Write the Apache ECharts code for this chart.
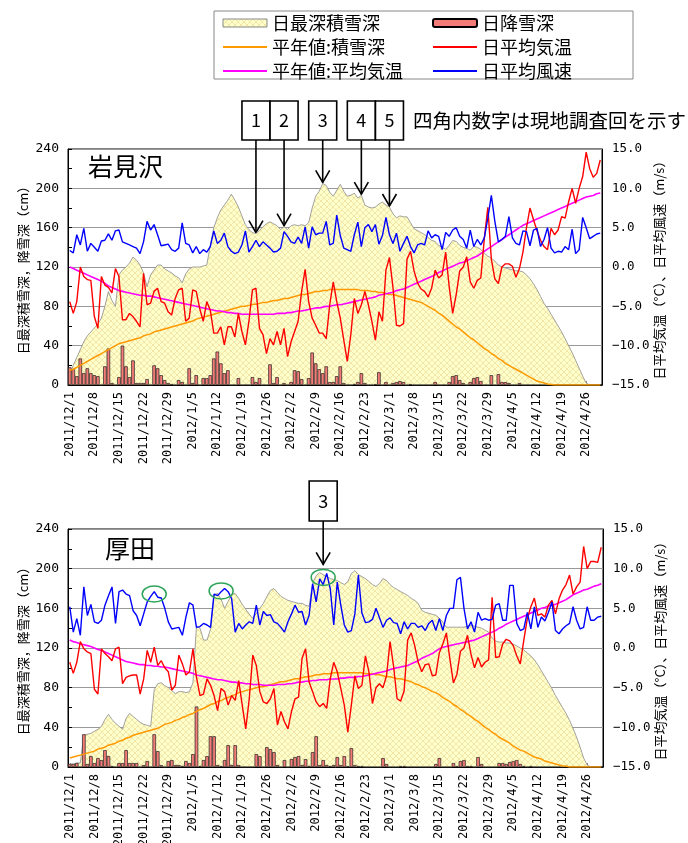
<!DOCTYPE html>
<html><head><meta charset="utf-8">
<script src="https://cdn.jsdelivr.net/npm/echarts/dist/echarts.min.js"></script>
<style>html,body{margin:0;padding:0;background:#fff}#c{width:688px;height:843px}</style>
</head><body><div id="c"></div>
<script>
// ---------- categories ----------
const startDate = [2011, 12, 1];
const nDays = 152;
const dates = [];
(function(){ const d = new Date(startDate[0], startDate[1]-1, startDate[2]);
  for (let i=0;i<nDays;i++){ dates.push(d.getFullYear()+'/'+(d.getMonth()+1)+'/'+d.getDate()); d.setDate(d.getDate()+1);} })();
const cmTicks = [0,40,80,120,160,200,240];
const degTicks = [-15,-10,-5,0,5,10,15];

// ---------- 岩見沢 ----------
const snow1 = [10,20,28,36,44,50,54,58,62,68,
 80,95,86,80,112,117,120,124,130,127,
 122,114,100,112,117,122,122,118,116,114,
 111,109,104,113,118,120,120,120,121,122,
 142,160,170,178,183,188,194,188,181,172,
 163,158,155,154,157,161,164,166,164,162,
 158,161,158,162,163,162,163,162,165,180,
 192,197,205,203,196,192,198,204,197,192,
 193,195,190,193,183,181,180,181,184,186,
 183,181,174,170,172,171,171,165,159,157,
 155,153,150,147,146,142,140,138,142,147,
 146,142,140,139,137,141,140,138,134,131,
 129,126,122,120,119,118,117,116,116,115,
 112,108,103,97,90,83,78,72,66,60,
 54,47,40,33,25,17,9,2,0,0,0,0];
const fall1 = [18,16,9,27,12,17,12,10,9,0,
 19,37,2,0,8,40,19,8,25,2,
 2,2,6,0,20,17,10,5,2,1,
 0,5,3,0,17,2,10,0,7,7,
 10,27,34,22,12,15,0,0,7,0,
 0,0,8,3,7,0,0,21,2,8,
 0,2,0,3,15,14,6,0,7,33,
 22,16,12,19,3,3,9,19,2,0,
 0,1,3,12,2,0,0,1,13,0,
 3,0,2,3,4,3,0,1,0,0,
 0,0,0,0,3,0,0,0,3,9,
 10,5,2,0,3,7,8,4,0,0,
 10,0,11,3,3,2,0,0,2,0,
 0,0,0,0,0,0,0,0,0,0,
 0,0,0,0,0,0,0,0,0,0,0,0];
const normSnow1 = [15,16,18,20,22,24,26,28,30,32,
 34,36,38,40,42,43,44,45,46,47,
 48,50,51,52,54,55,56,57,58,59,
 60,61,62,63,64,65,67,68,69,70,
 71,72,73,74,75,76,77,78,79,80,
 80,81,82,82,83,84,84,85,86,86,
 87,88,88,89,90,91,92,92,93,94,
 95,95,96,96,97,97,97,97,97,97,
 97,97,97,96,96,96,95,95,94,94,
 93,92,92,91,90,89,88,87,86,85,
 84,82,80,78,76,73,71,68,65,62,
 59,57,54,51,48,46,43,40,37,35,
 32,30,27,25,22,20,18,16,14,12,
 10,8,6,4,3,2,1,0.5,0,0,
 0,0,0,0,0,0,0,0,0,0,0,0];
const temp1 = [-4.4,-5.9,-4.4,0.0,-1.2,-1.6,-1.7,-6.3,-7.8,-1.2,
 -2.3,-2.6,-3.3,-0.2,-1.2,-6.7,-6.7,-5.9,-6.3,-6.9,
 -7.6,-0.8,-4.8,-4.6,-3.1,-2.7,-4.4,-4.6,-5.7,-6.1,
 -4.0,-2.9,-2.7,-6.9,-6.5,-2.9,-3.1,-5.3,-6.9,-4.4,
 -5.5,-8.4,-8.4,-7.6,-9.9,-7.6,-7.6,-8.9,-5.9,-8.2,
 -9.9,-6.9,-2.9,-2.7,-7.8,-8.6,-11.0,-9.1,-9.9,-8.2,
 -9.9,-7.8,-11.4,-9.5,-8.2,-6.9,-3.1,-0.3,-4.4,-6.5,
 -7.4,-8.4,-8.4,-9.1,-4.8,-1.9,-4.4,-6.5,-9.3,-12.0,
 -8.6,-4.0,-5.9,-4.8,-3.1,-4.8,-6.9,-9.3,-5.7,-6.9,
 -0.4,1.2,-2.6,-7.4,-7.5,-7.2,1.0,2.0,-0.5,-2.0,
 -2.8,-3.1,-3.8,-2.7,-0.4,-1.4,-1.0,1.9,-2.5,-5.9,
 -3.5,-0.5,0.0,1.3,-1.9,-2.7,-1.7,-1.4,3.6,7.6,
 1.0,-1.5,-2.1,0.0,0.4,0.4,0.1,-1.3,-0.2,1.9,
 5.0,7.5,6.0,4.6,3.4,2.6,2.2,4.9,4.1,4.7,
 6.4,6.2,8.3,10.0,8.1,10.0,11.5,14.6,12.5,11.4,11.9,13.6];
const normTemp1 = [0.0,-0.2,-0.4,-0.6,-0.8,-1.0,-1.2,-1.4,-1.6,-1.8,
 -2.1,-2.4,-2.6,-2.8,-3.0,-3.1,-3.2,-3.3,-3.4,-3.5,
 -3.6,-3.6,-3.7,-3.7,-3.8,-3.9,-4.0,-4.1,-4.2,-4.3,
 -4.4,-4.5,-4.6,-4.7,-4.8,-4.9,-5.0,-5.1,-5.2,-5.3,
 -5.4,-5.5,-5.6,-5.6,-5.7,-5.8,-5.8,-5.9,-5.9,-6.0,
 -6.0,-6.0,-6.0,-6.0,-6.0,-6.0,-6.0,-6.0,-6.0,-5.9,
 -5.9,-5.9,-5.8,-5.8,-5.7,-5.6,-5.6,-5.5,-5.4,-5.3,
 -5.2,-5.2,-5.1,-5.0,-5.0,-4.9,-4.8,-4.8,-4.7,-4.6,
 -4.5,-4.4,-4.3,-4.2,-4.1,-4.0,-3.9,-3.8,-3.6,-3.5,
 -3.4,-3.3,-3.2,-3.0,-2.9,-2.8,-2.6,-2.4,-2.2,-2.0,
 -1.8,-1.6,-1.4,-1.2,-1.0,-0.7,-0.5,-0.3,-0.1,0.1,
 0.3,0.5,0.6,0.8,1.0,1.2,1.4,1.7,2.0,2.3,
 2.6,2.9,3.2,3.5,3.8,4.1,4.4,4.7,5.0,5.3,
 5.5,5.7,5.9,6.1,6.3,6.5,6.7,6.9,7.1,7.3,
 7.5,7.7,7.9,8.1,8.3,8.5,8.7,8.9,9.0,9.1,9.3,9.4];
const wind1 = [2.1,1.8,4.1,2.8,4.9,2.0,3.0,2.5,2.0,3.3,
 3.4,4.2,3.4,4.6,4.7,3.2,3.0,2.8,2.6,2.4,
 1.7,3.2,5.8,4.7,5.4,4.1,2.7,2.8,2.9,2.2,
 2.0,2.4,5.6,3.0,2.8,1.8,2.6,1.7,2.2,1.9,
 2.6,4.6,3.0,3.4,4.3,2.6,2.0,1.7,1.9,2.8,
 4.6,1.9,2.6,3.4,2.6,3.2,2.8,2.4,1.9,2.0,
 2.4,4.5,3.9,3.2,3.0,3.8,3.0,5.1,2.4,5.1,
 4.1,4.3,4.3,5.8,2.8,3.0,6.6,4.0,2.4,2.2,
 2.0,4.1,5.7,2.6,5.0,5.4,4.5,5.4,2.9,4.0,
 6.3,4.1,3.0,4.3,2.0,3.0,3.9,2.6,1.8,2.8,
 3.0,2.8,4.6,3.7,4.1,3.9,2.2,4.4,3.9,4.7,
 5.0,3.9,3.5,2.4,4.7,2.6,3.5,2.8,3.7,6.2,
 9.1,5.8,3.2,3.5,3.9,6.4,3.7,3.0,2.8,4.6,
 4.5,2.7,4.7,4.9,2.6,3.5,5.0,2.4,1.8,2.0,
 1.9,2.6,2.2,4.8,1.7,2.2,6.3,5.0,3.6,3.9,4.2,4.3];

// ---------- 厚田 ----------
const snow2 = [3,3,4,4,32,33,34,36,38,41,
 48,53,48,44,41,38,49,54,51,48,
 45,43,42,41,78,84,85,82,80,77,
 74,76,76,75,76,85,142,140,128,128,
 139,174,175,169,160,167,174,175,170,164,
 159,154,150,155,160,165,172,178,180,176,
 172,170,168,167,166,165,165,163,162,185,
 193,196,194,192,190,189,188,186,184,187,
 195,198,194,192,190,187,184,182,185,190,
 188,184,181,179,177,175,173,170,168,165,
 158,156,155,154,153,150,146,141,141,141,
 141,141,141,142,143,142,141,140,138,136,
 130,127,126,126,125,125,124,122,120,118,
 115,112,108,103,97,91,85,79,72,66,
 60,54,47,39,30,20,9,2,0,0,0,0];
const fall2 = [3,3,4,0,33,3,11,4,9,7,
 17,11,1,0,4,4,17,4,4,4,
 0,2,6,0,33,16,2,0,6,7,
 2,2,1,6,4,13,61,1,7,11,
 31,31,2,1,7,22,2,22,2,0,
 0,0,0,13,11,0,20,18,15,2,
 0,7,0,8,10,11,2,8,1,15,
 31,2,7,2,1,2,10,2,11,1,
 19,2,1,1,0,0,0,0,0,9,
 3,0,0,0,1,1,0,0,0,0,
 0,0,0,0,3,9,0,0,0,4,
 1,6,7,1,1,0,10,3,0,0,
 0,0,4,4,3,5,6,7,3,1,
 0,1,0,0,0,0,0,0,0,0,
 0,0,0,0,0,0,0,0,0,0,0,0];
const normSnow2 = [9,10,11,12,13,14,15,16,18,19,
 20,22,23,24,26,27,29,30,32,33,
 34,35,36,37,38,39,41,43,44,45,
 47,48,50,51,53,54,56,58,59,61,
 63,64,66,67,69,70,72,73,75,76,
 77,78,79,80,81,81,82,83,84,85,
 86,86,87,88,89,89,90,91,91,92,
 93,93,94,94,94,95,95,95,95,95,
 95,95,95,95,94,94,94,93,93,92,
 91,91,90,89,89,88,87,86,84,83,
 81,80,78,76,75,73,70,68,66,63,
 61,58,56,53,51,48,46,43,40,38,
 35,33,30,28,26,24,21,19,17,16,
 14,12,10,9,8,6,5,4,3,2,
 1,1,0,0,0,0,0,0,0,0,0,0];
const temp2 = [-1.8,-3.2,-1.8,0.8,-0.1,-0.5,-0.7,-5.2,-5.8,-0.1,
 -0.7,-1.1,-1.6,-0.1,0.1,-4.5,-3.7,-3.5,-3.4,-3.4,
 -5.8,-3.9,-0.3,-1.8,0.1,-2.2,-1.6,-2.5,-3.0,-5.3,
 -4.7,-0.9,-2.0,-3.4,-3.0,-0.1,-3.7,-6.0,-5.8,-3.9,
 -4.7,-6.0,-7.9,-5.1,-5.5,-7.2,-6.0,-6.6,-4.1,-7.2,
 -10.2,-6.4,-0.9,-2.2,-5.5,-6.8,-7.0,-6.4,-5.1,-9.7,
 -8.0,-9.3,-10.2,-8.0,-6.4,-6.2,-1.3,-0.1,-4.3,-5.5,
 -6.8,-7.4,-7.0,-7.6,-3.9,-1.8,-3.0,-5.1,-7.2,-10.6,
 -7.2,-3.5,-5.1,-4.7,-1.0,-3.0,-7.0,-5.0,-4.5,-5.0,
 -3.5,0.8,-2.3,-6.4,-6.7,-5.4,1.0,1.9,0.3,-1.8,
 -3.0,-2.1,-2.0,-3.5,-3.4,-0.6,0.5,1.9,-1.4,-4.4,
 -3.3,-0.4,0.0,1.6,-0.8,-2.5,-1.2,-2.4,-1.8,-1.5,
 6.4,-1.2,-1.1,0.5,1.1,0.9,0.3,-1.0,-2.0,1.0,
 3.7,5.2,6.3,4.1,4.3,3.9,5.4,6.0,4.3,6.2,
 7.3,8.0,9.2,6.8,7.7,8.3,12.8,10.0,10.9,10.9,10.8,12.7];
const normTemp2 = [1.0,0.8,0.7,0.5,0.4,0.3,0.2,0.0,-0.2,-0.3,
 -0.5,-0.7,-0.9,-1.1,-1.3,-1.5,-1.7,-1.8,-1.9,-2.0,
 -2.1,-2.1,-2.2,-2.2,-2.3,-2.3,-2.4,-2.4,-2.5,-2.6,
 -2.7,-2.8,-2.9,-3.0,-3.1,-3.2,-3.4,-3.5,-3.6,-3.7,
 -3.8,-3.9,-4.0,-4.0,-4.1,-4.2,-4.3,-4.3,-4.4,-4.4,
 -4.5,-4.5,-4.6,-4.6,-4.6,-4.7,-4.7,-4.7,-4.7,-4.6,
 -4.6,-4.6,-4.5,-4.5,-4.4,-4.3,-4.3,-4.2,-4.2,-4.1,
 -4.1,-4.0,-4.0,-4.0,-3.9,-3.9,-3.9,-3.8,-3.8,-3.7,
 -3.7,-3.7,-3.6,-3.6,-3.5,-3.4,-3.3,-3.2,-3.1,-3.0,
 -2.9,-2.7,-2.6,-2.5,-2.4,-2.3,-2.2,-2.0,-1.8,-1.6,
 -1.3,-1.1,-0.9,-0.7,-0.4,-0.1,0.1,0.2,0.3,0.4,
 0.5,0.6,0.7,0.8,0.9,1.0,1.2,1.4,1.6,1.8,
 2.0,2.2,2.5,2.7,3.0,3.2,3.4,3.6,3.8,4.0,
 4.2,4.4,4.6,4.8,5.0,5.1,5.3,5.4,5.5,5.7,
 5.9,6.1,6.4,6.7,6.9,7.1,7.3,7.4,7.6,7.8,7.9,8.1];
const wind2 = [5.2,2.0,3.7,1.6,7.7,4.1,5.5,3.3,3.1,3.5,
 5.4,6.6,7.7,3.1,7.1,7.3,6.8,6.6,4.7,4.1,
 2.8,4.3,5.8,6.5,7.1,6.4,6.3,5.0,3.3,2.4,
 2.5,2.6,1.6,3.9,5.7,5.4,2.6,2.7,3.1,2.9,
 2.6,6.8,6.6,7.1,7.5,7.1,6.2,2.0,3.1,2.4,
 2.9,3.3,3.1,5.4,2.9,4.6,4.1,4.2,3.3,3.1,
 2.6,2.0,3.3,4.3,5.4,4.5,4.6,2.9,4.1,8.1,
 5.8,8.7,8.0,9.4,7.5,2.9,8.3,5.4,2.9,2.0,
 2.2,4.3,9.2,4.4,3.2,3.3,3.6,5.0,3.8,2.6,
 3.5,3.8,3.2,3.1,1.8,3.3,2.4,3.1,3.1,2.6,
 2.8,2.2,3.1,3.5,2.2,3.7,2.2,4.1,5.0,5.0,
 8.6,8.9,5.0,2.4,3.3,2.0,4.5,3.5,3.7,3.5,
 3.6,5.4,5.6,3.5,3.5,7.9,7.9,3.1,2.2,2.4,
 4.5,2.4,5.2,2.6,3.9,3.4,4.5,5.8,2.2,1.8,
 2.4,2.8,3.1,5.2,3.5,2.4,2.6,5.2,3.5,3.5,3.9,4.0];

// ---------- annotations (day index of field surveys, circled wind peaks) ----------
const surveys1 = [{n:'1',day:53},{n:'2',day:61},{n:'3',day:72},{n:'4',day:83},{n:'5',day:91}];
const circles2 = [{day:24.3,v:6.8},{day:43.3,v:7.2},{day:72.2,v:8.9}];
const survey2 = {n:'3', circle:2};

// ---------- styling ----------
const FONT = '"Noto Sans CJK JP", "Noto Sans", sans-serif';
const NUMFONT = '"DejaVu Sans Mono", monospace';
const pc = document.createElement('canvas'); pc.width = 6; pc.height = 6;
(function(){ const c = pc.getContext('2d'); c.fillStyle='#FFFFCC'; c.fillRect(0,0,6,6);
  c.strokeStyle='#F1E4A4'; c.lineWidth=0.9; c.beginPath();
  c.moveTo(0,0); c.lineTo(6,6); c.moveTo(6,0); c.lineTo(0,6); c.stroke(); })();
const pattern = {image: pc, repeat: 'repeat'};

const grids = [
  {left:68, right:86, top:149, height:236},
  {left:68, right:85, top:529, height:238}
];
const fmtDeg = v => (v<0?'\u2212':'') + Math.abs(v).toFixed(1);

const xAxes = [], yAxes = [], series = [];
const panels = [
  {snow:snow1, fall:fall1, nSnow:normSnow1, temp:temp1, nTemp:normTemp1, wind:wind1},
  {snow:snow2, fall:fall2, nSnow:normSnow2, temp:temp2, nTemp:normTemp2, wind:wind2}
];
panels.forEach((p, g) => {
  xAxes.push({type:'category', gridIndex:g, data:dates, boundaryGap:true,
    axisLine:{lineStyle:{color:'#000', width:1}},
    axisTick:{show:true, inside:true, interval:6, length:4, alignWithLabel:true, lineStyle:{color:'#888'}},
    axisLabel:{interval:6, rotate:90, fontSize:12, color:'#000', margin:7, fontFamily:NUMFONT},
    splitLine:{show:false}});
  yAxes.push({type:'value', gridIndex:g, position:'left', min:cmTicks[0], max:cmTicks[cmTicks.length-1], interval:cmTicks[1]-cmTicks[0],
    name:'日最深積雪深，降雪深（cm）', nameLocation:'middle', nameRotate:90, nameGap:38, nameMoveOverlap:false,
    nameTextStyle:{fontSize:13, color:'#000', fontFamily:FONT},
    axisLine:{show:true, lineStyle:{color:'#000', width:1}},
    axisTick:{show:true, inside:true, length:4, lineStyle:{color:'#000'}},
    minorTick:{show:true, splitNumber:2, length:4, lineStyle:{color:'#000'}},
    axisLabel:{fontSize:13, color:'#000', margin:9, fontFamily:NUMFONT},
    splitLine:{show:true, lineStyle:{color:'#999', width:1}}});
  yAxes.push({type:'value', gridIndex:g, position:'right', min:degTicks[0], max:degTicks[degTicks.length-1], interval:degTicks[1]-degTicks[0],
    name:'日平均気温（°C）、日平均風速（m/s）', nameLocation:'middle', nameRotate:90, nameGap:51, nameMoveOverlap:false,
    nameTextStyle:{fontSize:13, color:'#000', fontFamily:FONT},
    axisLine:{show:true, lineStyle:{color:'#000', width:1}},
    axisTick:{show:false},
    axisLabel:{fontSize:12.5, color:'#000', margin:10, fontFamily:NUMFONT, formatter:fmtDeg},
    splitLine:{show:false}});
  const L = g*2, R = g*2+1;
  series.push(
    {name:'日最深積雪深', type:'line', xAxisIndex:g, yAxisIndex:L, data:p.snow, symbol:'none',
      lineStyle:{color:'#8a8a8a', width:0.8}, itemStyle:{color:'#8a8a8a'},
      areaStyle:{color:pattern, opacity:1}, z:1, silent:true},
    {name:'日降雪深', type:'bar', xAxisIndex:g, yAxisIndex:L, data:p.fall, barWidth:'100%',
      itemStyle:{color:'#F47C78', borderColor:'#222', borderWidth:0.7}, z:2, silent:true},
    {name:'平年値:積雪深', type:'line', xAxisIndex:g, yAxisIndex:L, data:p.nSnow, symbol:'none',
      lineStyle:{color:'#FF9900', width:1.5}, itemStyle:{color:'#FF9900'}, z:3, silent:true},
    {name:'平年値:平均気温', type:'line', xAxisIndex:g, yAxisIndex:R, data:p.nTemp, symbol:'none',
      lineStyle:{color:'#FF00FF', width:1.6}, itemStyle:{color:'#FF00FF'}, z:4, silent:true},
    {name:'日平均気温', type:'line', xAxisIndex:g, yAxisIndex:R, data:p.temp, symbol:'none',
      lineStyle:{color:'#FF0000', width:1.4}, itemStyle:{color:'#FF0000'}, z:5, silent:true},
    {name:'日平均風速', type:'line', xAxisIndex:g, yAxisIndex:R, data:p.wind, symbol:'none',
      lineStyle:{color:'#0000FF', width:1.4}, itemStyle:{color:'#0000FF'}, z:6, silent:true}
  );
});

const legendText = {fontSize:18, color:'#000', fontFamily:FONT, lineHeight:18};
const noSym = {opacity:0};
const option = {
  animation:false,
  backgroundColor:'#fff',
  textStyle:{fontFamily:FONT},
  title:[
    {text:'岩見沢', left:88, top:154, padding:0, textStyle:{fontSize:25, fontWeight:'normal', color:'#000', fontFamily:FONT}},
    {text:'厚田', left:105, top:536, padding:0, textStyle:{fontSize:25, fontWeight:'normal', color:'#000', fontFamily:FONT}}
  ],
  legend:[
    {left:222, top:14, orient:'vertical', itemWidth:44, itemHeight:8, itemGap:6, padding:0, selectedMode:false,
     textStyle:legendText,
     data:[{name:'日最深積雪深', icon:'rect', itemStyle:{color:pattern, borderColor:'#888', borderWidth:1}},
           {name:'平年値:積雪深', itemStyle:noSym, lineStyle:{width:2}}, {name:'平年値:平均気温', itemStyle:noSym, lineStyle:{width:2}}]},
    {left:432, top:14, orient:'vertical', itemWidth:44, itemHeight:8, itemGap:6, padding:0, selectedMode:false,
     textStyle:legendText,
     data:[{name:'日降雪深', icon:'roundRect', itemStyle:{color:'#F47C78', borderColor:'#000', borderWidth:2}},
           {name:'日平均気温', itemStyle:noSym, lineStyle:{width:2}}, {name:'日平均風速', itemStyle:noSym, lineStyle:{width:2}}]}
  ],
  grid: grids.map(g => Object.assign({show:true, borderColor:'#000', borderWidth:1, backgroundColor:'transparent', containLabel:false, outerBoundsMode:'none'}, g)),
  xAxis:xAxes, yAxis:yAxes, series:series
};

const chart = echarts.init(document.getElementById('c'), null, {renderer:'canvas'});
chart.setOption(option);

// ---------- annotation graphics (positioned via the chart's own scales) ----------
const gfx = [{type:'rect', silent:true, shape:{x:214, y:11, width:419, height:68}, style:{fill:'none', stroke:'#888', lineWidth:1}}];
function arrowBox(x, top, h, tipY, label){
  gfx.push({type:'line', silent:true, shape:{x1:x, y1:top+h, x2:x, y2:tipY}, style:{stroke:'#000', lineWidth:1.6}});
  gfx.push({type:'polyline', silent:true, shape:{points:[[x-7,tipY-12],[x,tipY],[x+7,tipY-12]]}, style:{stroke:'#000', lineWidth:1.6, fill:'none'}});
  gfx.push({type:'rect', silent:true, shape:{x:x-14, y:top, width:28, height:h}, style:{fill:'#fff', stroke:'#000', lineWidth:1.6}});
  gfx.push({type:'text', silent:true, x:x, y:top+h/2, style:{text:label, fontSize:18, fill:'#000', align:'center', verticalAlign:'middle', fontFamily:FONT}});
}
surveys1.forEach(s => {
  const pt = chart.convertToPixel({xAxisIndex:0, yAxisIndex:0}, [s.day, snow1[s.day]]);
  arrowBox(pt[0], 101, 39, pt[1]-1, s.n);
});
gfx.push({type:'text', silent:true, x:413, y:121, style:{text:'四角内数字は現地調査回を示す', fontSize:19.5, fill:'#000', verticalAlign:'middle', fontFamily:FONT}});
const cpts = circles2.map(c => chart.convertToPixel({xAxisIndex:1, yAxisIndex:3}, [c.day, c.v]));
cpts.forEach(p => gfx.push({type:'ellipse', silent:true, shape:{cx:p[0], cy:p[1], rx:12, ry:8}, style:{fill:'none', stroke:'#2EA55A', lineWidth:1.5}, z:100}));
const cp = cpts[survey2.circle];
arrowBox(cp[0], 481, 40, cp[1]-13, survey2.n);
chart.setOption({graphic: gfx});
</script></body></html>
